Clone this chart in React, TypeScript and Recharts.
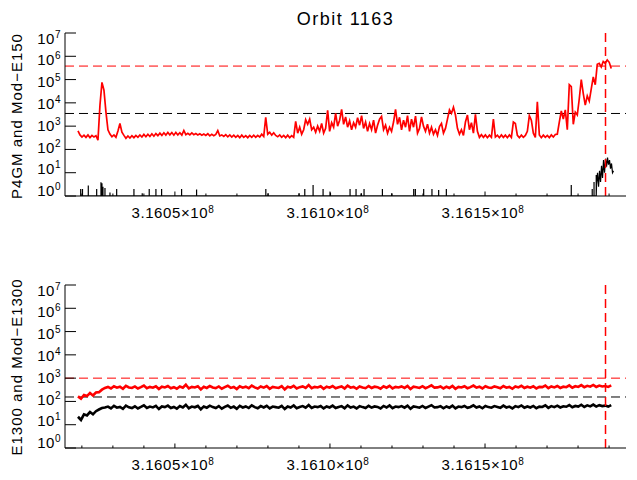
import React from 'react';
import { LineChart, Line, XAxis, YAxis, ReferenceLine } from 'recharts';

const TITLE = 'Orbit 1163';
const TOP_Y_LABEL = 'P4GM and Mod\u2212E150';
const BOTTOM_Y_LABEL = 'E1300 and Mod\u2212E1300';

const X_DOMAIN: [number, number] = [316014561, 316195460];
const X_TICKS = [
  316020000, 316030000, 316040000, 316050000, 316060000, 316070000, 316080000, 316090000, 316100000,
  316110000, 316120000, 316130000, 316140000, 316150000, 316160000, 316170000, 316180000, 316190000,
];
const Y_DOMAIN: [number, number] = [1, 10000000];
const Y_TICKS = [1, 10, 100, 1000, 10000, 100000, 1000000, 10000000];

// Upper panel, red series (uniform time sampling)
const TOP_T0 = 316018750;
const TOP_DT = 644;
const topRed = [
  630, 420, 340, 410, 330, 420, 320, 400, 340, 390,
  250, 8000, 76000, 35000, 4000, 700, 460, 350, 420, 330,
  620, 1300, 550, 400, 300, 380, 310, 390, 320, 400,
  330, 420, 340, 440, 350, 450, 360, 470, 370, 480,
  390, 500, 400, 520, 410, 540, 420, 530, 410, 540,
  420, 520, 410, 650, 430, 490, 420, 510, 430, 480,
  420, 470, 410, 460, 400, 470, 380, 450, 390, 440,
  640, 380, 420, 360, 430, 350, 420, 340, 410, 330,
  400, 320, 410, 330, 390, 320, 400, 330, 410, 330,
  400, 340, 450, 360, 2400, 450, 540, 410, 520, 400,
  350, 420, 330, 400, 320, 410, 320, 390, 330, 1600,
  500, 900, 450, 700, 1900, 1200, 2000, 700, 900, 550,
  1000, 600, 1300, 500, 800, 4800, 600, 1400, 900, 3500,
  1000, 1800, 5300, 1200, 2500, 900, 1700, 700, 1400, 900,
  2300, 1100, 2800, 800, 1500, 600, 1300, 700, 1800, 500,
  1100, 2000, 2600, 700, 1100, 500, 900, 600, 1500, 5300,
  1200, 2400, 700, 1800, 900, 2800, 600, 2000, 900, 2700,
  500, 800, 2500, 1000, 600, 1200, 500, 900, 450, 700,
  400, 950, 1300, 500, 800, 2000, 5000, 3500, 6500, 3000,
  800, 450, 700, 400, 1500, 3000, 700, 1400, 500, 3200,
  600, 330, 430, 330, 420, 320, 410, 330, 2000, 340,
  410, 320, 420, 330, 410, 320, 420, 330, 1500, 1300,
  400, 320, 410, 330, 400, 600, 2800, 1800, 500, 330,
  11000, 420, 320, 410, 330, 400, 320, 420, 340, 440,
  450, 1500, 4500, 2000, 5000, 700, 60000, 50000, 1200, 4000,
  3000, 15000, 100000, 25000, 8000, 20000, 12000, 40000, 130000, 60000,
  450000, 500000, 350000, 600000, 500000, 700000, 550000, 300000,
];

// Upper panel, black series: isolated counts [time, value] rising from the floor
const topBlackSpikes: [number, number][] = [
  [316019620, 2], [316020200, 2], [316022070, 2.8], [316024775, 2], [316026160, 3.9],
  [316026480, 3.5], [316026800, 2.5], [316027450, 2.2], [316029060, 1.4], [316031220, 2],
  [316036790, 2], [316039465, 1.3], [316041720, 2], [316043880, 2], [316045715, 2],
  [316052160, 2], [316056990, 1.9], [316079320, 2], [316080060, 1.3], [316090050, 1.3],
  [316091880, 2], [316094560, 3], [316097780, 2], [316100160, 1.4], [316106480, 2],
  [316108410, 2], [316110150, 1.3], [316110990, 2], [316116910, 2], [316119910, 1.3],
  [316127000, 2], [316127540, 2], [316130220, 2], [316132890, 2], [316135050, 1.8],
  [316137530, 2], [316177810, 3], [316184570, 2], [316185150, 4], [316185860, 8],
];
const TOP_BLACK_END_T0 = 316185960;
const TOP_BLACK_END_DT = 322;
const topBlackEnd = [3.2, 10, 2.5, 12, 4, 20, 6, 35, 10, 40, 18, 45, 22, 35, 15, 25, 10, 12];

// Lower panel series
const BOTTOM_T0 = 316018750;
const BOTTOM_DT = 966;
const bottomRed = [
  165, 130, 190, 170, 230, 180, 240, 250, 320, 380,
  420, 360, 450, 390, 430, 350, 470, 400, 380, 440,
  360, 410, 480, 370, 420, 390, 450, 340, 430, 400,
  460, 370, 410, 350, 440, 390, 520, 360, 420, 400,
  450, 330, 430, 380, 460, 400, 370, 440, 350, 410,
  470, 380, 420, 340, 450, 390, 430, 370, 480, 400,
  360, 440, 390, 460, 350, 420, 400, 380, 450, 330,
  430, 390, 470, 360, 410, 440, 380, 500, 370, 420,
  400, 450, 350, 430, 390, 460, 370, 410, 440, 360,
  480, 390, 420, 350, 440, 400, 370, 460, 380, 430,
  410, 350, 450, 390, 470, 360, 420, 400, 440, 380,
  460, 340, 430, 410, 380, 450, 370, 420, 490, 390,
  400, 440, 360, 430, 380, 460, 350, 420, 400, 450,
  370, 410, 480, 390, 430, 360, 450, 400, 380, 440,
  410, 370, 460, 390, 420, 350, 440, 400, 470, 380,
  430, 390, 450, 360, 420, 410, 480, 370, 440, 400,
  460, 380, 430, 410, 490, 390, 450, 420, 500, 410,
  470, 430, 510, 420, 480, 440, 460, 420, 490,
];
const bottomBlack = [
  22, 16, 28, 25, 35, 28, 38, 45, 52, 55,
  60, 50, 65, 54, 58, 48, 66, 56, 52, 62,
  50, 58, 68, 52, 60, 55, 64, 47, 61, 57,
  66, 52, 58, 49, 63, 55, 72, 51, 60, 56,
  64, 46, 61, 54, 66, 57, 52, 63, 49, 58,
  67, 53, 60, 48, 64, 55, 61, 52, 68, 57,
  51, 63, 55, 65, 50, 60, 57, 54, 64, 47,
  61, 55, 67, 51, 58, 63, 54, 70, 52, 60,
  57, 64, 50, 61, 55, 66, 52, 58, 63, 51,
  68, 55, 60, 50, 63, 57, 52, 65, 54, 61,
  58, 50, 64, 55, 67, 51, 60, 57, 63, 54,
  66, 48, 61, 58, 54, 64, 52, 60, 69, 55,
  57, 63, 51, 61, 54, 66, 50, 60, 57, 64,
  53, 58, 68, 55, 61, 51, 64, 57, 54, 63,
  58, 53, 66, 55, 60, 50, 63, 57, 67, 54,
  61, 55, 64, 51, 60, 58, 68, 53, 63, 57,
  66, 55, 62, 59, 70, 56, 64, 60, 72, 58,
  68, 61, 73, 60, 69, 63, 66, 60, 70,
];

const TOP_RED_LIMIT = 380000;
const TOP_BLACK_LIMIT = 3500;
const BOTTOM_RED_LIMIT = 1000;
const BOTTOM_BLACK_LIMIT = 155;
const MARKER_TIME = 316188855;

const FONT = "'Liberation Sans', Arial, sans-serif";
const RED = '#ff0000';
const DASH = '9 5';

type Pt = { t: number; v: number };
const sampled = (t0: number, dt: number, vals: number[]): Pt[] => vals.map((v, i) => ({ t: t0 + i * dt, v }));
const spikes = (list: [number, number][]): Pt[] =>
  list.flatMap(([t, v]) => [{ t, v: 1 }, { t, v }, { t, v: 1 }]);

const topRedData = sampled(TOP_T0, TOP_DT, topRed);
const topBlackData = [...spikes(topBlackSpikes), ...sampled(TOP_BLACK_END_T0, TOP_BLACK_END_DT, topBlackEnd)];
const bottomRedData = sampled(BOTTOM_T0, BOTTOM_DT, bottomRed);
const bottomBlackData = sampled(BOTTOM_T0, BOTTOM_DT, bottomBlack);

const LeftTick = (props: any) => {
  const { x, y, payload } = props;
  const e = Math.round(Math.log10(payload.value));
  const dy = 10.7 - (7 - e) * 1.5;
  return (
    <g>
      <line x1={x} y1={y} x2={x + 11} y2={y} stroke="#000" strokeWidth={1} />
      <text x={x - 4} y={y + dy} textAnchor="end" fontSize={15} fontFamily={FONT} fill="#000" letterSpacing={0.5}>
        10
        <tspan dy={-6} fontSize={10}>{e}</tspan>
      </text>
    </g>
  );
};

const RightTick = (props: any) => {
  const { x, y } = props;
  return <line x1={x} y1={y} x2={x - 11} y2={y} stroke="#000" strokeWidth={1} />;
};

const isMajor = (v: number) => v % 50000 === 0;

const BottomTick = (props: any) => {
  const { x, y, payload } = props;
  const major = isMajor(payload.value);
  return (
    <g>
      <line x1={x} y1={y} x2={x} y2={y - (major ? 4.5 : 2.5)} stroke="#000" strokeWidth={1} />
      {major && (
        <text x={x - 2} y={y + 22} textAnchor="middle" fontSize={15} fontFamily={FONT} fill="#000" letterSpacing={0.6}>
          {(payload.value / 1e8).toFixed(4)}
          {'\u00d7'}10
          <tspan dy={-5} fontSize={10}>8</tspan>
        </text>
      )}
    </g>
  );
};

const TopTick = (props: any) => {
  const { x, y, payload } = props;
  const major = isMajor(payload.value);
  return <line x1={x} y1={y} x2={x} y2={y + (major ? 4.5 : 2.5)} stroke="#000" strokeWidth={1} />;
};

type PanelProps = {
  red: Pt[];
  black: Pt[];
  redLimit: number;
  blackLimit: number;
  top: number;
  height: number;
  marginTop: number;
  xAxisHeight: number;
  redWidth: number;
  blackWidth: number;
};

function Panel({ red, black, redLimit, blackLimit, top, height, marginTop, xAxisHeight, redWidth, blackWidth }: PanelProps) {
  return (
    <div style={{ position: 'absolute', left: 0, top, width: 637, height }}>
      <LineChart width={637} height={height} margin={{ top: marginTop, right: 11, bottom: 0, left: 0 }}>
        <XAxis
          xAxisId="b"
          dataKey="t"
          type="number"
          orientation="bottom"
          domain={X_DOMAIN}
          allowDataOverflow
          ticks={X_TICKS}
          interval={0}
          tickSize={0}
          tickMargin={0}
          tickLine={false}
          tick={(p: any) => <BottomTick {...p} />}
          axisLine={{ stroke: '#000' }}
          height={xAxisHeight}
        />
        <XAxis
          xAxisId="t"
          dataKey="t"
          type="number"
          orientation="top"
          domain={X_DOMAIN}
          allowDataOverflow
          ticks={X_TICKS}
          interval={0}
          tickSize={0}
          tickMargin={0}
          tickLine={false}
          tick={(p: any) => <TopTick {...p} />}
          axisLine={{ stroke: '#000' }}
          height={0}
        />
        <YAxis
          yAxisId="l"
          type="number"
          scale="log"
          domain={Y_DOMAIN}
          allowDataOverflow
          ticks={Y_TICKS}
          interval={0}
          tickSize={0}
          tickMargin={0}
          tickLine={false}
          tick={(p: any) => <LeftTick {...p} />}
          axisLine={{ stroke: '#000' }}
          width={65}
        />
        <YAxis
          yAxisId="r"
          orientation="right"
          type="number"
          scale="log"
          domain={Y_DOMAIN}
          allowDataOverflow
          ticks={Y_TICKS}
          interval={0}
          tickSize={0}
          tickMargin={0}
          tickLine={false}
          tick={(p: any) => <RightTick {...p} />}
          axisLine={{ stroke: '#000' }}
          width={0}
        />
        <ReferenceLine xAxisId="b" yAxisId="l" y={redLimit} stroke={RED} strokeWidth={1} strokeDasharray={DASH} />
        <ReferenceLine xAxisId="b" yAxisId="l" y={blackLimit} stroke="#000" strokeWidth={1} strokeDasharray={DASH} />
        <Line
          xAxisId="b"
          yAxisId="l"
          data={black}
          dataKey="v"
          type="linear"
          stroke="#000"
          strokeWidth={blackWidth}
          strokeLinejoin="miter"
          dot={false}
          activeDot={false}
          isAnimationActive={false}
        />
        <Line
          xAxisId="b"
          yAxisId="l"
          data={red}
          dataKey="v"
          type="linear"
          stroke={RED}
          strokeWidth={redWidth}
          strokeLinejoin="miter"
          dot={false}
          activeDot={false}
          isAnimationActive={false}
        />
        <ReferenceLine
          xAxisId="b"
          yAxisId="l"
          x={MARKER_TIME}
          stroke={RED}
          strokeOpacity={1}
          strokeWidth={1.5}
          strokeDasharray={DASH}
        />
      </LineChart>
    </div>
  );
}

export default function App() {
  return (
    <div style={{ position: 'absolute', left: 0, top: 0, width: 637, height: 480, background: '#fff', overflow: 'hidden' }}>
      <Panel
        red={topRedData}
        black={topBlackData}
        redLimit={TOP_RED_LIMIT}
        blackLimit={TOP_BLACK_LIMIT}
        top={0}
        height={240}
        marginTop={33}
        xAxisHeight={44}
        redWidth={1.7}
        blackWidth={1.2}
      />
      <Panel
        red={bottomRedData}
        black={bottomBlackData}
        redLimit={BOTTOM_RED_LIMIT}
        blackLimit={BOTTOM_BLACK_LIMIT}
        top={240}
        height={240}
        marginTop={45}
        xAxisHeight={32}
        redWidth={2.6}
        blackWidth={2.6}
      />
      <svg
        width={637}
        height={480}
        style={{ position: 'absolute', left: 0, top: 0, pointerEvents: 'none' }}
      >
        <text x={345.5} y={25} textAnchor="middle" fontSize={18} fontFamily={FONT} fill="#000" letterSpacing={1.5}>
          {TITLE}
        </text>
        <text
          x={22}
          y={116}
          transform="rotate(-90 22 116)"
          textAnchor="middle"
          fontSize={15}
          fontFamily={FONT}
          fill="#000"
          letterSpacing={1}
        >
          {TOP_Y_LABEL}
        </text>
        <text
          x={22}
          y={367}
          transform="rotate(-90 22 367)"
          textAnchor="middle"
          fontSize={15}
          fontFamily={FONT}
          fill="#000"
          letterSpacing={1}
        >
          {BOTTOM_Y_LABEL}
        </text>
      </svg>
    </div>
  );
}
